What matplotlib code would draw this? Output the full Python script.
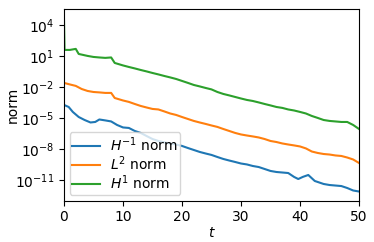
import numpy as np
import matplotlib
matplotlib.use("Agg")
import matplotlib.pyplot as plt
from matplotlib.ticker import NullLocator

# values, stored as log10 of the norm
t_hm1 = [0, 0.8, 1.5, 2.5, 3.5, 4.5, 5.3, 6, 7, 8, 9, 10, 11, 12, 13, 14, 15, 16, 17, 18,
         19, 20, 21, 22, 23, 24, 25, 26, 27, 28, 29, 30, 31, 32, 33, 34, 35, 36, 37, 38,
         39, 39.7, 40.5, 41.4, 42.5, 44, 45, 46, 47, 48, 49, 50]
log_hm1 = [-3.74, -3.94, -4.42, -4.91, -5.20, -5.44, -5.39, -5.15, -5.24, -5.34, -5.68, -5.92,
           -5.97, -6.26, -6.45, -6.75, -7.04, -7.23, -7.37, -7.47, -7.57, -7.71, -7.91, -8.10,
           -8.29, -8.44, -8.58, -8.78, -8.97, -9.12, -9.26, -9.41, -9.50, -9.65, -9.75, -9.94,
           -10.13, -10.23, -10.28, -10.33, -10.71, -10.91, -10.70, -10.52, -11.10, -11.39,
           -11.49, -11.54, -11.59, -11.78, -12.02, -12.12]

t_l2 = [0, 1, 2, 3, 4, 5, 6, 7, 8, 8.6, 10, 11, 12, 13, 14, 15, 16, 17, 18, 19, 20, 21, 22,
        23, 24, 25, 26, 27, 28, 29, 30, 31, 32, 33, 34, 35, 36, 37, 38, 39, 40, 41, 42, 43,
        44, 45, 46, 47, 48, 49, 50]
log_l2 = [-1.61, -1.76, -1.90, -2.20, -2.39, -2.49, -2.53, -2.58, -2.58, -3.07, -3.31, -3.45,
          -3.65, -3.84, -3.99, -4.13, -4.18, -4.37, -4.57, -4.71, -4.91, -5.10, -5.29, -5.44,
          -5.58, -5.73, -5.87, -6.07, -6.26, -6.45, -6.60, -6.70, -6.79, -6.89, -7.04, -7.23,
          -7.33, -7.47, -7.57, -7.66, -7.76, -7.95, -8.25, -8.39, -8.49, -8.54, -8.63, -8.68,
          -8.83, -9.02, -9.36]

t_h1 = [0, 0.1, 1, 2, 2.5, 4, 5, 6, 7, 8, 8.6, 10, 11, 12, 13, 14, 15, 16, 17, 18, 19, 20,
        21, 22, 23, 24, 25, 26, 27, 28, 29, 30, 31, 32, 33, 34, 35, 36, 37, 38, 39, 40, 41,
        42, 43, 44, 45, 46, 47, 48, 49, 50]
log_h1 = [4.70, 1.58, 1.58, 1.68, 1.19, 1.00, 0.90, 0.85, 0.81, 0.85, 0.32, 0.08, -0.07,
          -0.21, -0.36, -0.50, -0.65, -0.79, -0.94, -1.08, -1.23, -1.42, -1.61, -1.81, -1.95,
          -2.10, -2.24, -2.49, -2.68, -2.82, -2.97, -3.12, -3.26, -3.36, -3.50, -3.65, -3.79,
          -3.94, -4.03, -4.18, -4.28, -4.42, -4.57, -4.81, -5.00, -5.20, -5.29, -5.34, -5.39,
          -5.39, -5.68, -6.07]

ytick_exp = [4, 1, -2, -5, -8, -11]

fig = plt.figure(figsize=(3.74, 2.42), dpi=100)
ax = fig.add_axes([0.171, 0.171, 0.789, 0.791])
ax.semilogy(t_hm1, 10.0 ** np.array(log_hm1), label="$H^{-1}$ norm")
ax.semilogy(t_l2, 10.0 ** np.array(log_l2), label="$L^2$ norm")
ax.semilogy(t_h1, 10.0 ** np.array(log_h1), label="$H^1$ norm")
ax.set_xlim(0, 50)
ax.set_ylim(10.0 ** -13.0, 10.0 ** 5.52)
ax.set_yticks([10.0 ** e for e in ytick_exp])
ax.yaxis.set_minor_locator(NullLocator())
ax.set_xlabel("$t$", labelpad=1)
ax.set_ylabel("norm")
ax.yaxis.set_label_coords(-0.15, 0.5)
ax.legend(loc="lower left", labelspacing=0.05, borderpad=0.2, handletextpad=0.7,
          borderaxespad=0.4)
fig.savefig("out.png")
